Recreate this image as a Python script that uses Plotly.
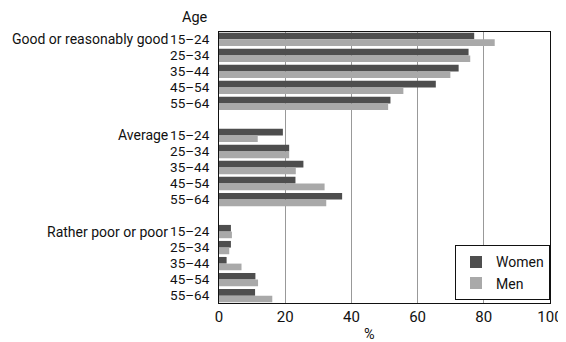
import plotly.graph_objects as go

groups = ["Good or reasonably good", "Average", "Rather poor or poor"]
ages = ["15–24", "25–34", "35–44", "45–54", "55–64"]
women = [
    [77.1, 75.4, 72.4, 65.5, 51.8],
    [19.3, 21.2, 25.5, 23.1, 37.2],
    [3.6, 3.6, 2.3, 11.0, 10.9],
]
men = [
    [83.3, 75.9, 69.9, 55.7, 51.1],
    [11.7, 21.2, 23.2, 31.9, 32.4],
    [3.9, 3.1, 6.8, 11.8, 16.1],
]
x_ticks = [0, 20, 40, 60, 80, 100]

FONT = "Roboto, Liberation Sans, sans-serif"
FS = 14.5

n_age = len(ages)
step = n_age + 1
pos, labels, wv, mv = [], [], [], []
for g in range(len(groups)):
    for i in range(n_age):
        pos.append(g * step + i)
        labels.append(ages[i])
        wv.append(women[g][i])
        mv.append(men[g][i])

fig = go.Figure()
fig.add_trace(go.Bar(y=pos, x=wv, orientation="h", name="Women",
                     marker=dict(color="#4e4e4e", line=dict(width=0))))
fig.add_trace(go.Bar(y=pos, x=mv, orientation="h", name="Men",
                     marker=dict(color="#a9a9a9", line=dict(width=0))))

annotations = []
for g, name in enumerate(groups):
    annotations.append(dict(text=name, xref="paper", yref="y", x=-0.148, y=g * step,
                            xanchor="right", yanchor="middle", showarrow=False,
                            font=dict(size=14, color="#111", family=FONT)))
annotations.append(dict(text="Age", xref="paper", yref="paper", x=-0.027, y=1.0,
                        xanchor="right", yanchor="middle", yshift=15, showarrow=False,
                        font=dict(size=FS, color="#111", family=FONT)))
annotations.append(dict(text="%", xref="paper", yref="paper", x=0.456, y=-0.115,
                        xanchor="center", yanchor="middle", showarrow=False,
                        font=dict(size=FS, color="#111", family=FONT)))

last = (len(groups) - 1) * step + n_age - 1
fig.update_layout(
    width=558, height=334,
    margin=dict(l=211, r=16, t=24, b=39),
    paper_bgcolor="white", plot_bgcolor="white",
    barmode="group", bargap=0.17, bargroupgap=0,
    font=dict(family=FONT, size=FS, color="#111"),
    annotations=annotations,
    legend=dict(x=1, y=0.01, xanchor="right", yanchor="bottom",
                bordercolor="#111", borderwidth=1, bgcolor="white",
                font=dict(size=14, family=FONT), tracegroupgap=0,
                itemwidth=30),
    showlegend=True,
)
fig.update_xaxes(range=[0, 100], tickvals=x_ticks, showgrid=True, gridcolor="#999",
                 gridwidth=1, showline=True, linecolor="#111", linewidth=1, mirror=True,
                 zeroline=False, ticks="", automargin=False,
                 tickfont=dict(size=15, family=FONT))
fig.update_yaxes(range=[last + 0.46, -0.46], tickvals=pos, ticktext=labels,
                 showgrid=False, showline=True, linecolor="#111", linewidth=1, mirror=True,
                 zeroline=False, ticks="", ticklabelstandoff=6, automargin=False,
                 tickfont=dict(size=13.5, family=FONT))

fig.write_html("out.html")
